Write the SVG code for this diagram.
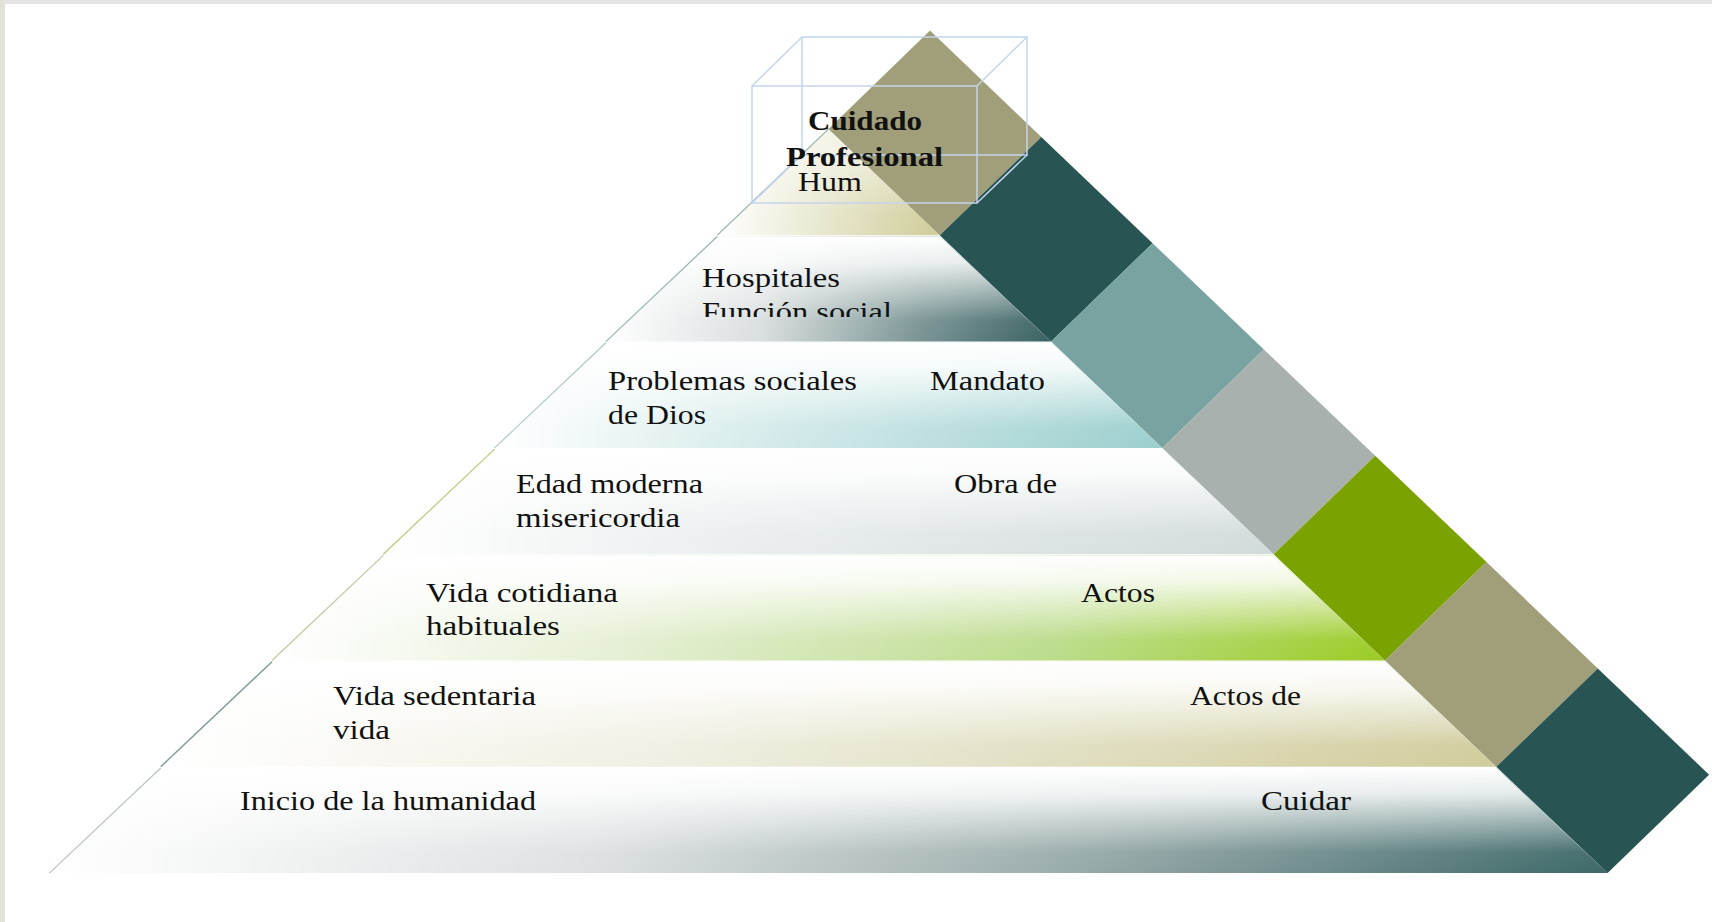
<svg xmlns="http://www.w3.org/2000/svg" width="1712" height="922" viewBox="0 0 1712 922">
<style>
  .t { font-family: "Liberation Serif", "Times New Roman", serif; font-size: 28px; fill: #111; }
  .b { font-weight: bold; }
  .box { fill: none; stroke: #c4d5ea; stroke-width: 1.5; }
</style>
<defs>
  <linearGradient id="vfade" x1="0" y1="0" x2="0" y2="1">
    <stop offset="0" stop-color="#fff" stop-opacity="1"/>
    <stop offset="0.25" stop-color="#fff" stop-opacity="0.85"/>
    <stop offset="0.8" stop-color="#fff" stop-opacity="0.05"/>
    <stop offset="1" stop-color="#fff" stop-opacity="0"/>
  </linearGradient>
  <linearGradient id="g1" x1="0" y1="0" x2="1" y2="0">
    <stop offset="0" stop-color="#fff"/><stop offset="0.4" stop-color="#ecebd6"/><stop offset="1" stop-color="#cfcd9a"/>
  </linearGradient>
  <linearGradient id="g2" x1="0" y1="0" x2="1" y2="0">
    <stop offset="0" stop-color="#fff"/><stop offset="0.35" stop-color="#d9dede"/><stop offset="0.7" stop-color="#7b9595"/><stop offset="1" stop-color="#3a6262"/>
  </linearGradient>
  <linearGradient id="g3" x1="0" y1="0" x2="1" y2="0">
    <stop offset="0" stop-color="#fff"/><stop offset="0.4" stop-color="#d6ebeb"/><stop offset="1" stop-color="#9bcfce"/>
  </linearGradient>
  <linearGradient id="g4" x1="0" y1="0" x2="1" y2="0">
    <stop offset="0" stop-color="#fff"/><stop offset="0.4" stop-color="#eaeeee"/><stop offset="1" stop-color="#d2dbdb"/>
  </linearGradient>
  <linearGradient id="g5" x1="0" y1="0" x2="1" y2="0">
    <stop offset="0" stop-color="#fff"/><stop offset="0.3" stop-color="#e6f0d6"/><stop offset="0.7" stop-color="#bcdc8c"/><stop offset="1" stop-color="#9bcc24"/>
  </linearGradient>
  <linearGradient id="g6" x1="0" y1="0" x2="1" y2="0">
    <stop offset="0" stop-color="#fff"/><stop offset="0.4" stop-color="#efeee0"/><stop offset="1" stop-color="#cfcc9b"/>
  </linearGradient>
  <linearGradient id="g7" x1="0" y1="0" x2="1" y2="0">
    <stop offset="0" stop-color="#fff"/><stop offset="0.35" stop-color="#dde1e1"/><stop offset="0.7" stop-color="#8fa3a3"/><stop offset="1" stop-color="#3d6868"/>
  </linearGradient>
  <clipPath id="clipFn"><rect x="600" y="236" width="400" height="81"/></clipPath>
</defs>

<rect x="0" y="0" width="1712" height="922" fill="#fff"/>
<rect x="0" y="0" width="1712" height="4" fill="#e4e4e4"/>
<rect x="0" y="0" width="5" height="922" fill="#e2e2d8"/>

<g id="layer1">
  <polygon points="828.5,129 939.8,235.3 717.2,235.3" fill="url(#g1)"/>
  <polygon points="828.5,129 939.8,235.3 717.2,235.3" fill="url(#vfade)" opacity="0.6"/>
  <line x1="828.5" y1="129" x2="717.2" y2="235.3" stroke="#7a9a9a" stroke-width="1.2" opacity="0.7"/>
</g>
<g id="layer2">
  <polygon points="717.2,236.5 939.8,236.5 1051.1,341.6 605.9,341.6" fill="url(#g2)"/>
  <polygon points="717.2,236.5 939.8,236.5 1051.1,341.6 605.9,341.6" fill="url(#vfade)"/>
  <line x1="717.2" y1="236.5" x2="605.9" y2="341.6" stroke="#6f9494" stroke-width="1.2" opacity="0.7"/>
</g>
<g id="layer3">
  <polygon points="605.9,342.8 1051.1,342.8 1162.4,447.9 494.6,447.9" fill="url(#g3)"/>
  <polygon points="605.9,342.8 1051.1,342.8 1162.4,447.9 494.6,447.9" fill="url(#vfade)"/>
  <line x1="605.9" y1="342.8" x2="494.6" y2="447.9" stroke="#8fb0b0" stroke-width="1.2" opacity="0.7"/>
</g>
<g id="layer4">
  <polygon points="494.6,449.1 1162.4,449.1 1273.7,554.2 383.3,554.2" fill="url(#g4)"/>
  <polygon points="494.6,449.1 1162.4,449.1 1273.7,554.2 383.3,554.2" fill="url(#vfade)"/>
  <line x1="494.6" y1="449.1" x2="383.3" y2="554.2" stroke="#a6c05a" stroke-width="1.2" opacity="0.8"/>
</g>
<g id="layer5">
  <polygon points="383.3,555.4 1273.7,555.4 1385,660.5 272,660.5" fill="url(#g5)"/>
  <polygon points="383.3,555.4 1273.7,555.4 1385,660.5 272,660.5" fill="url(#vfade)"/>
  <line x1="383.3" y1="555.4" x2="272" y2="660.5" stroke="#b5b98a" stroke-width="1.2" opacity="0.8"/>
</g>
<g id="layer6">
  <polygon points="272,661.7 1385,661.7 1496.3,766.8 160.7,766.8" fill="url(#g6)"/>
  <polygon points="272,661.7 1385,661.7 1496.3,766.8 160.7,766.8" fill="url(#vfade)"/>
  <line x1="272" y1="661.7" x2="160.7" y2="766.8" stroke="#5f8080" stroke-width="1.4" opacity="0.8"/>
</g>
<g id="layer7">
  <polygon points="160.7,768 1496.3,768 1607.6,873.1 49.4,873.1" fill="url(#g7)"/>
  <polygon points="160.7,768 1496.3,768 1607.6,873.1 49.4,873.1" fill="url(#vfade)"/>
  <line x1="160.7" y1="768" x2="49.4" y2="873.1" stroke="#a0aaaa" stroke-width="1.2" opacity="0.7"/>
</g>

<g id="band">
  <polygon points="828.5,129 939.8,235.3 1041.3,136.9 930,30.6" fill="#a09f7a"/>
  <polygon points="939.8,235.3 1051.1,341.6 1152.6,243.2 1041.3,136.9" fill="#285454"/>
  <polygon points="1051.1,341.6 1162.4,447.9 1263.9,349.5 1152.6,243.2" fill="#79a3a1"/>
  <polygon points="1162.4,447.9 1273.7,554.2 1375.2,455.8 1263.9,349.5" fill="#a9b1ae"/>
  <polygon points="1273.7,554.2 1385,660.5 1486.5,562.1 1375.2,455.8" fill="#7aa301"/>
  <polygon points="1385,660.5 1496.3,766.8 1597.8,668.4 1486.5,562.1" fill="#a09f7a"/>
  <polygon points="1496.3,766.8 1607.6,873.1 1709.1,774.7 1597.8,668.4" fill="#285454"/>
</g>

<g id="box">
  <rect class="box" x="802" y="37" width="225" height="118"/>
  <rect class="box" x="752" y="86" width="225" height="117"/>
  <line class="box" x1="752" y1="86" x2="802" y2="37"/>
  <line class="box" x1="977" y1="86" x2="1027" y2="37"/>
  <line class="box" x1="977" y1="203" x2="1027" y2="155"/>
  <line class="box" x1="752" y1="203" x2="802" y2="155"/>
</g>

<g id="labels">
  <text class="t b" x="808" y="130" textLength="114" lengthAdjust="spacingAndGlyphs">Cuidado</text>
  <text class="t b" x="786" y="166" textLength="157" lengthAdjust="spacingAndGlyphs">Profesional</text>
  <text class="t" x="798" y="191" textLength="64" lengthAdjust="spacingAndGlyphs">Hum</text>

  <text class="t" x="702" y="287" textLength="138" lengthAdjust="spacingAndGlyphs">Hospitales</text>
  <text class="t" x="702" y="321" textLength="190" lengthAdjust="spacingAndGlyphs" clip-path="url(#clipFn)">Función social</text>

  <text class="t" x="608" y="390" textLength="249" lengthAdjust="spacingAndGlyphs">Problemas sociales</text>
  <text class="t" x="608" y="424" textLength="98" lengthAdjust="spacingAndGlyphs">de Dios</text>
  <text class="t" x="930" y="390" textLength="115" lengthAdjust="spacingAndGlyphs">Mandato</text>

  <text class="t" x="516" y="493" textLength="187" lengthAdjust="spacingAndGlyphs">Edad moderna</text>
  <text class="t" x="516" y="527" textLength="164" lengthAdjust="spacingAndGlyphs">misericordia</text>
  <text class="t" x="954" y="493" textLength="103" lengthAdjust="spacingAndGlyphs">Obra de</text>

  <text class="t" x="426" y="602" textLength="192" lengthAdjust="spacingAndGlyphs">Vida cotidiana</text>
  <text class="t" x="426" y="635" textLength="134" lengthAdjust="spacingAndGlyphs">habituales</text>
  <text class="t" x="1081" y="602" textLength="74" lengthAdjust="spacingAndGlyphs">Actos</text>

  <text class="t" x="333" y="705" textLength="203" lengthAdjust="spacingAndGlyphs">Vida sedentaria</text>
  <text class="t" x="333" y="739" textLength="57" lengthAdjust="spacingAndGlyphs">vida</text>
  <text class="t" x="1190" y="705" textLength="111" lengthAdjust="spacingAndGlyphs">Actos de</text>

  <text class="t" x="240" y="810" textLength="296" lengthAdjust="spacingAndGlyphs">Inicio de la humanidad</text>
  <text class="t" x="1261" y="810" textLength="90" lengthAdjust="spacingAndGlyphs">Cuidar</text>
</g>
</svg>
